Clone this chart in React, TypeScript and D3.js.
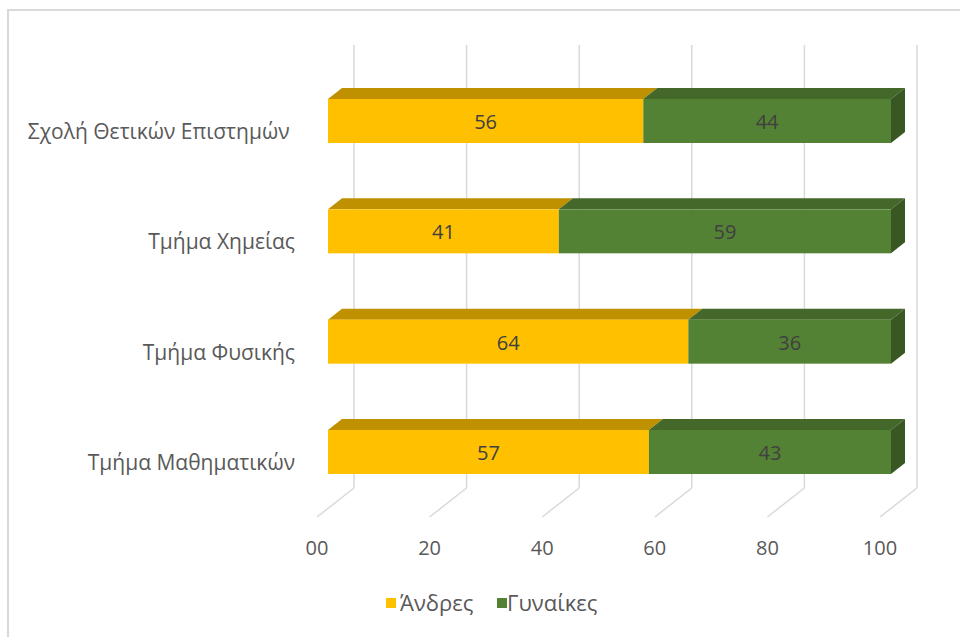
import React from "react";
import * as d3 from "d3";

const categories = ["Σχολή Θετικών Επιστημών ", "Τμήμα Χημείας", "Τμήμα Φυσικής", "Τμήμα Μαθηματικών"];
const men = [56, 41, 64, 57];
const women = [44, 59, 36, 43];
const tickValues = [0, 20, 40, 60, 80, 100];
const tickLabels = ["00", "20", "40", "60", "80", "100"];
const seriesNames = ["Άνδρες", "Γυναίκες"];

const W = 960;
const H = 637;
const FONT = "'Open Sans', 'Noto Sans', sans-serif";

const colors = {
  men: { front: "#FFC000", top: "#BF9000", side: "#A67C00" },
  women: { front: "#548235", top: "#43682A", side: "#385723" },
};

export default function App() {
  const x = d3.scaleLinear().domain([0, 100]).range([328, 891]);
  const y = d3.scalePoint<string>().domain(categories).range([121, 452]);
  const barH = 44;
  const dx = 14;
  const dy = 11;
  const wallDx = 26;
  const floorDx = -11;
  const wallTop = 45;
  const wallBottom = 488;
  const floorFront = 517;

  const segs = (i: number) => {
    const c = categories[i];
    const cy = y(c)!;
    const yTop = cy - barH / 2;
    const yBot = cy + barH / 2;
    const a1 = men[i];
    const b1 = men[i] + women[i];
    return { c, cy, yTop, yBot, parts: [
      { v: men[i], x0: x(0), x1: x(a1), col: colors.men },
      { v: women[i], x0: x(a1), x1: x(b1), col: colors.women },
    ] };
  };

  return (
    <svg width={W} height={H} style={{ position: "absolute", left: 0, top: 0, background: "#fff" }}>
      <rect x={0} y={0} width={W} height={H} fill="#fff" />
      <path d={`M8,${H} L8,10 L${W},10`} fill="none" stroke="#d9d9d9" strokeWidth={2} />
      {tickValues.map((t) => (
        <g key={t}>
          <line x1={x(t) + wallDx} x2={x(t) + wallDx} y1={wallTop} y2={wallBottom} stroke="#d9d9d9" strokeWidth={1.5} />
          <line x1={x(t) + wallDx} x2={x(t) + floorDx} y1={wallBottom} y2={floorFront} stroke="#d9d9d9" strokeWidth={1.5} />
        </g>
      ))}
      {categories.map((_, i) => {
        const s = segs(i);
        return (
          <g key={i}>
            {s.parts.map((p, j) => (
              <g key={j}>
                <polygon
                  points={`${p.x0},${s.yTop} ${p.x0 + dx},${s.yTop - dy} ${p.x1 + dx},${s.yTop - dy} ${p.x1},${s.yTop}`}
                  fill={p.col.top}
                />
                {j === s.parts.length - 1 && (
                  <polygon
                    points={`${p.x1},${s.yTop} ${p.x1 + dx},${s.yTop - dy} ${p.x1 + dx},${s.yBot - dy} ${p.x1},${s.yBot}`}
                    fill={p.col.side}
                  />
                )}
                <rect x={p.x0} y={s.yTop} width={p.x1 - p.x0} height={barH} fill={p.col.front} />
                <text
                  x={(p.x0 + p.x1) / 2}
                  y={s.cy + 8}
                  textAnchor="middle"
                  fontFamily={FONT}
                  fontSize={20}
                  fill="#404040"
                >
                  {p.v}
                </text>
              </g>
            ))}
          </g>
        );
      })}
      {categories.map((c) => (
        <text
          key={c}
          x={295}
          y={y(c)! + 18}
          textAnchor="end"
          fontFamily={FONT}
          fontSize={21}
          fill="#595959"
          style={{ whiteSpace: "pre" }}
        >
          {c}
        </text>
      ))}
      {tickValues.map((t, i) => (
        <text key={t} x={x(t) + floorDx} y={555} textAnchor="middle" fontFamily={FONT} fontSize={20} fill="#595959">
          {tickLabels[i]}
        </text>
      ))}
      <rect x={386} y={598} width={10} height={10} fill={colors.men.front} />
      <text x={400} y={611} fontFamily={FONT} fontSize={22} fill="#595959">{seriesNames[0]}</text>
      <rect x={497} y={598} width={10} height={10} fill={colors.women.front} />
      <text x={507} y={611} fontFamily={FONT} fontSize={22} fill="#595959">{seriesNames[1]}</text>
    </svg>
  );
}
